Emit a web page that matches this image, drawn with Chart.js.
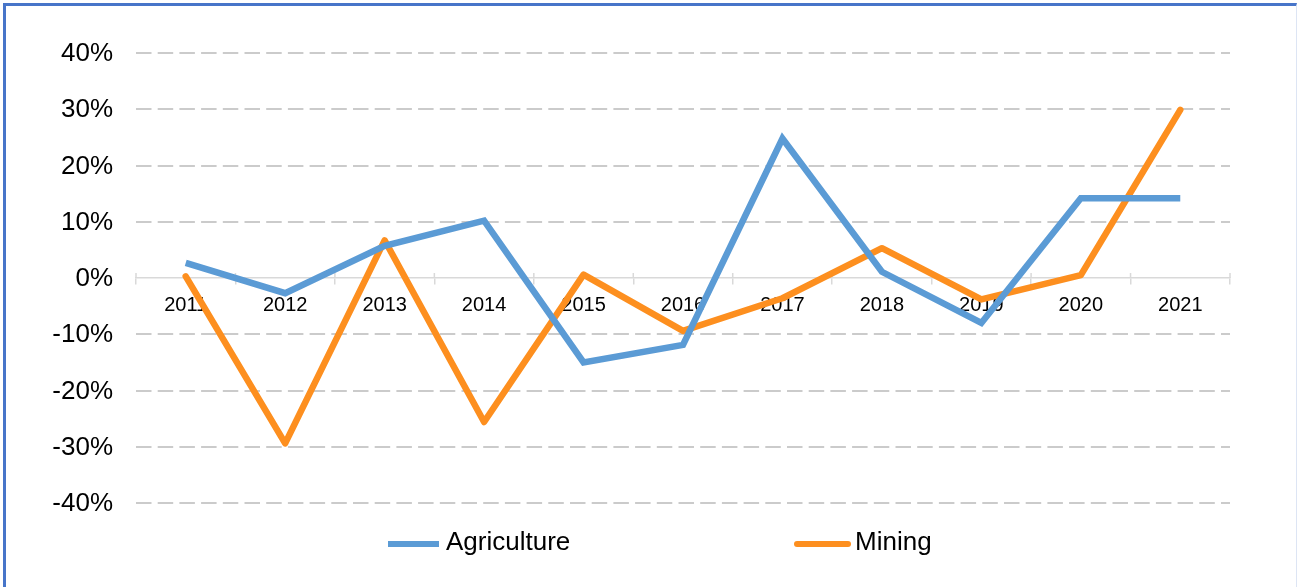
<!DOCTYPE html>
<html>
<head>
<meta charset="utf-8">
<script src="https://cdn.jsdelivr.net/npm/chart.js@4/dist/chart.umd.min.js"></script>
<style>
  html, body { margin: 0; padding: 0; background: #fff; }
  body { width: 1301px; height: 587px; position: relative; overflow: hidden; font-family: "Liberation Sans", Arial, sans-serif; }
  #frame { position: absolute; left: 3px; top: 3px; width: 1294px; height: 700px; border-left: 3px solid #4775c9; border-top: 3px solid #4775c9; border-right: 1px solid #dde5f4; box-sizing: border-box; pointer-events: none; }
  #wrap { position: absolute; left: 0; top: 0; width: 1301px; height: 587px; }
  .lg { position: absolute; top: 526px; height: 30px; line-height: 30px; font-size: 26px; color: #000; white-space: nowrap; }
  .sw { position: absolute; height: 6px; top: 541px; }
</style>
</head>
<body>
<div id="wrap"><canvas id="c" width="1301" height="587"></canvas></div>
<div id="frame"></div>
<div id="legend"></div>
<script>
const years = ['2011','2012','2013','2014','2015','2016','2017','2018','2019','2020','2021'];
const agriculture = [2.7, -2.7, 5.7, 10.2, -15.0, -11.9, 24.8, 1.1, -8.0, 14.2, 14.2];
const mining = [0.3, -29.4, 6.7, -25.6, 0.6, -9.4, -3.6, 5.3, -3.8, 0.5, 29.9];
const seriesNames = ['Agriculture', 'Mining'];
const seriesColors = ['#5b9bd5', '#fd8f1f'];
const yTicks = [-40, -30, -20, -10, 0, 10, 20, 30, 40];

const upTicks = {
  id: 'upTicks',
  beforeDatasetsDraw(chart) {
    const xs = chart.scales.x, ys = chart.scales.y;
    const y0 = ys.getPixelForValue(0);
    const ctx = chart.ctx;
    const pts = [chart.chartArea.left];
    for (let i = 1; i < years.length; i++) {
      pts.push((xs.getPixelForValue(i) + xs.getPixelForValue(i - 1)) / 2);
    }
    pts.push(chart.chartArea.right);
    ctx.save();
    ctx.strokeStyle = '#d9d9d9';
    ctx.lineWidth = 1.5;
    ctx.beginPath();
    pts.forEach(p => { ctx.moveTo(p, y0 - 5); ctx.lineTo(p, y0); });
    ctx.stroke();
    ctx.restore();
  }
};

new Chart(document.getElementById('c'), {
  type: 'line',
  data: {
    labels: years,
    datasets: [
      { label: seriesNames[0], data: agriculture, borderColor: seriesColors[0], backgroundColor: seriesColors[0],
        borderWidth: 6.5, pointRadius: 0, tension: 0, borderCapStyle: 'butt', borderJoinStyle: 'miter', fill: false },
      { label: seriesNames[1], data: mining, borderColor: seriesColors[1], backgroundColor: seriesColors[1],
        borderWidth: 6.5, pointRadius: 0, tension: 0, borderCapStyle: 'round', borderJoinStyle: 'round', fill: false }
    ]
  },
  options: {
    responsive: false,
    animation: false,
    devicePixelRatio: 1,
    layout: { padding: { left: 0, right: 71, top: 53, bottom: 84 } },
    plugins: { legend: { display: false }, tooltip: { enabled: false } },
    scales: {
      x: {
        type: 'category',
        offset: true,
        position: { y: 0 },
        grid: { offset: true, drawOnChartArea: false, drawTicks: true, tickLength: 6, color: '#d9d9d9', lineWidth: 1.5 },
        border: { display: true, color: '#d9d9d9', width: 1.5 },
        ticks: { color: '#000', font: { family: 'Liberation Sans', size: 20 }, padding: 9, maxRotation: 0, autoSkip: false }
      },
      y: {
        min: -40, max: 40,
        afterBuildTicks(scale) { scale.ticks = yTicks.map(v => ({ value: v })); },
        afterFit(scale) { scale.width = 136; },
        grid: { drawTicks: false, lineWidth: 2, color: ctx => (ctx.tick && ctx.tick.value === 0) ? 'rgba(0,0,0,0)' : '#cbcbcb' },
        border: { display: false, dash: [15.5, 6.2] },
        ticks: { color: '#000', font: { family: 'Liberation Sans', size: 26 }, padding: 23, labelOffset: 1, callback: v => v + '%' }
      }
    }
  },
  plugins: [upTicks]
});

// legend
const lg = document.getElementById('legend');
const swX = [388, 794], swW = [51, 57], txX = [446, 855];
seriesNames.forEach((n, i) => {
  const s = document.createElement('div');
  s.className = 'sw';
  s.style.left = swX[i] + 'px';
  s.style.width = swW[i] + 'px';
  s.style.background = seriesColors[i];
  if (i === 1) s.style.borderRadius = '3px';
  lg.appendChild(s);
  const t = document.createElement('div');
  t.className = 'lg';
  t.style.left = txX[i] + 'px';
  t.textContent = n;
  lg.appendChild(t);
});
</script>
</body>
</html>
